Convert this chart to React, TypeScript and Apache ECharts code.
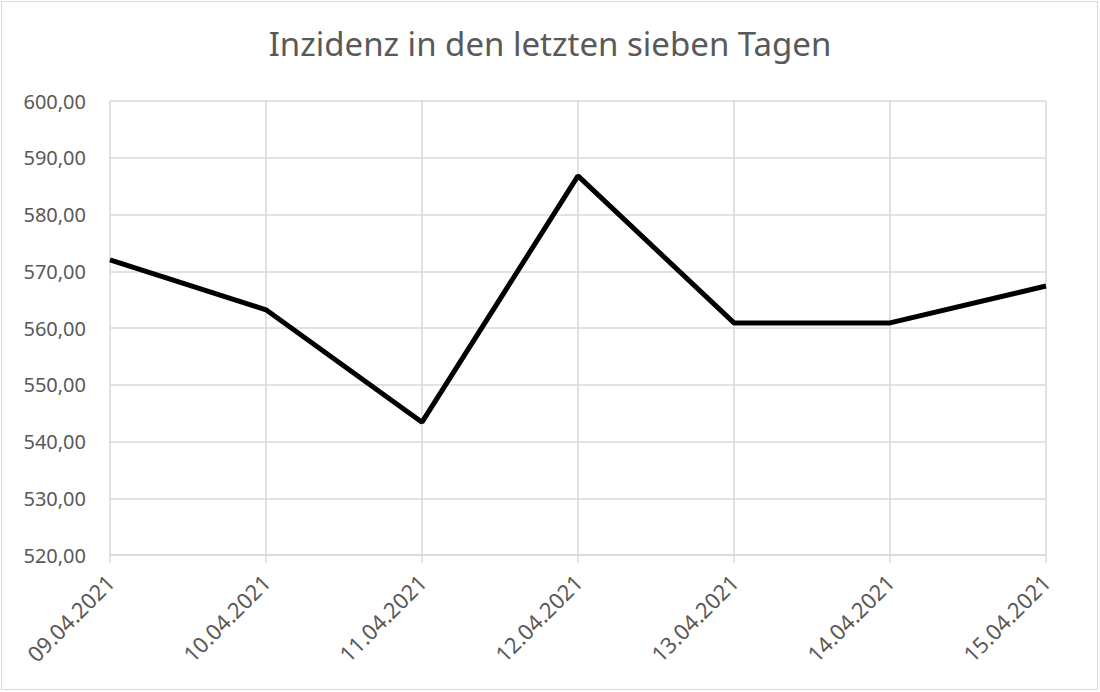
import React, { useEffect, useRef } from "react";
import * as echarts from "echarts";

const categories = ["09.04.2021", "10.04.2021", "11.04.2021", "12.04.2021", "13.04.2021", "14.04.2021", "15.04.2021"];
const values = [572.0, 563.2, 543.4, 586.8, 560.9, 560.9, 567.4];
const titleText = "Inzidenz in den letzten sieben Tagen";

export default function App() {
  const ref = useRef<HTMLDivElement>(null);
  useEffect(() => {
    if (!ref.current) return;
    const chart = echarts.init(ref.current, null, { renderer: "svg" });
    const font = "'Noto Sans', 'Open Sans', sans-serif";
    chart.setOption({
      animation: false,
      backgroundColor: "transparent",
      title: {
        text: titleText,
        left: "center",
        top: 22,
        textStyle: { fontFamily: font, fontSize: 33, fontWeight: "normal", color: "#595959" },
      },
      grid: { left: 110, right: 54, top: 101, bottom: 137, containLabel: false },
      xAxis: {
        type: "category",
        data: categories,
        boundaryGap: false,
        axisLine: { show: true, lineStyle: { color: "#d9d9d9", width: 1.5 } },
        axisTick: { show: true, length: 8, lineStyle: { color: "#d9d9d9", width: 1.5 } },
        splitLine: { show: true, lineStyle: { color: "#d9d9d9", width: 1.5 } },
        axisLabel: { rotate: 45, margin: 23, fontFamily: font, fontSize: 22, color: "#595959" },
      },
      yAxis: {
        type: "value",
        min: 520,
        max: 600,
        interval: 10,
        axisLine: { show: false },
        axisTick: { show: false },
        splitLine: { show: true, lineStyle: { color: "#d9d9d9", width: 1.5 } },
        axisLabel: {
          margin: 24,
          fontFamily: font,
          fontSize: 20,
          color: "#595959",
          formatter: (v: number) => v.toFixed(2).replace(".", ","),
        },
      },
      series: [
        {
          type: "line",
          data: values,
          symbol: "none",
          lineStyle: { color: "#000000", width: 5 },
        },
      ],
    });
    return () => chart.dispose();
  }, []);
  return (
    <div style={{ position: "fixed", left: 0, top: 0, width: 1100, height: 692, background: "#fff" }}>
      <div
        style={{
          position: "absolute",
          left: 1,
          top: 1,
          width: 1097,
          height: 689,
          boxSizing: "border-box",
          border: "1.5px solid #d9d9d9",
        }}
      />
      <div ref={ref} style={{ position: "absolute", left: 0, top: 0, width: 1100, height: 692 }} />
    </div>
  );
}
